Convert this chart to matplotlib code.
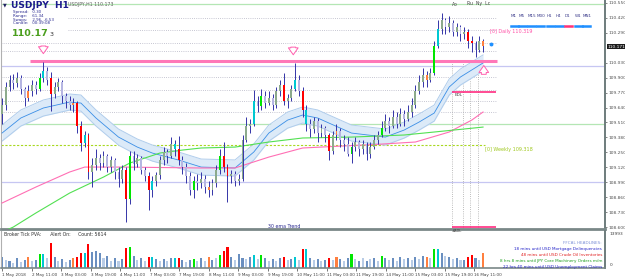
import numpy as np
import matplotlib
matplotlib.use("Agg")
import matplotlib.pyplot as plt

# ---------------- data ----------------
opens = [109.58, 109.66, 109.82, 109.88, 109.85, 109.90, 109.80, 109.72, 109.78, 109.84,
         109.80, 109.90, 109.96, 109.90, 109.76, 109.82, 109.86, 109.74, 109.70, 109.66,
         109.68, 109.48, 109.33, 109.40, 109.08, 109.14, 109.20, 109.16, 109.22, 109.12,
         109.18, 109.08, 109.02, 109.10, 108.84, 109.22, 109.15, 109.20, 109.10, 109.04,
         108.92, 109.00, 109.05, 109.18, 109.25, 109.22, 109.32, 109.28, 109.18, 109.12,
         109.04, 108.92, 109.00, 108.98, 109.02, 108.95, 108.92, 108.98, 109.10, 109.22,
         109.12, 109.04, 109.06, 109.00, 109.02, 109.36, 109.48, 109.50, 109.70, 109.65,
         109.74, 109.68, 109.72, 109.66, 109.78, 109.84, 109.70, 109.72, 109.80, 109.88,
         109.78, 109.62, 109.50, 109.45, 109.52, 109.42, 109.46, 109.40, 109.26, 109.40,
         109.44, 109.36, 109.32, 109.24, 109.30, 109.34, 109.28, 109.32, 109.24, 109.30,
         109.36, 109.40, 109.46, 109.52, 109.48, 109.56, 109.50, 109.58, 109.54, 109.60,
         109.66, 109.78, 109.86, 109.92, 109.88, 109.94, 110.18, 110.32, 110.40, 110.34,
         110.38, 110.30, 110.34, 110.28, 110.30, 110.22, 110.20, 110.14, 110.22]
highs = [109.72, 109.86, 109.92, 109.93, 109.95, 109.92, 109.82, 109.84, 109.88, 109.87,
         109.94, 110.04, 109.99, 109.95, 109.86, 109.90, 109.88, 109.77, 109.74, 109.72,
         109.70, 109.52, 109.44, 109.42, 109.20, 109.28, 109.24, 109.26, 109.24, 109.22,
         109.20, 109.12, 109.14, 109.12, 109.26, 109.26, 109.24, 109.22, 109.12, 109.08,
         109.04, 109.08, 109.22, 109.30, 109.28, 109.38, 109.36, 109.39, 109.22, 109.16,
         109.08, 109.04, 109.06, 109.08, 109.05, 109.00, 109.02, 109.14, 109.28, 109.34,
         109.15, 109.10, 109.09, 109.06, 109.40, 109.56, 109.54, 109.79, 109.74, 109.80,
         109.78, 109.78, 109.76, 109.82, 109.88, 109.94, 109.76, 109.84, 110.03, 109.92,
         109.82, 109.66, 109.54, 109.56, 109.55, 109.50, 109.48, 109.42, 109.44, 109.50,
         109.46, 109.40, 109.38, 109.34, 109.38, 109.36, 109.36, 109.34, 109.34, 109.40,
         109.44, 109.52, 109.58, 109.56, 109.62, 109.60, 109.64, 109.62, 109.66, 109.72,
         109.84, 109.92, 109.98, 109.96, 109.98, 110.22, 110.40, 110.46, 110.42, 110.44,
         110.40, 110.38, 110.36, 110.34, 110.32, 110.26, 110.22, 110.26, 110.24]
lows = [109.50, 109.62, 109.78, 109.80, 109.82, 109.76, 109.65, 109.70, 109.74, 109.76,
        109.78, 109.86, 109.84, 109.61, 109.72, 109.78, 109.68, 109.64, 109.62, 109.60,
        109.42, 109.26, 109.30, 109.02, 108.95, 109.10, 109.10, 109.12, 109.08, 109.08,
        109.02, 108.95, 108.98, 108.64, 108.80, 109.10, 109.12, 109.06, 109.00, 108.75,
        108.86, 108.96, 109.02, 109.14, 109.16, 109.20, 109.22, 109.14, 109.06, 108.98,
        108.88, 108.85, 108.92, 108.94, 108.90, 108.86, 108.88, 108.95, 109.06, 109.08,
        108.82, 108.98, 108.96, 108.97, 109.00, 109.34, 109.42, 109.48, 109.60, 109.62,
        109.64, 109.66, 109.62, 109.64, 109.74, 109.66, 109.64, 109.70, 109.78, 109.74,
        109.56, 109.44, 109.38, 109.42, 109.34, 109.38, 109.34, 109.18, 109.24, 109.36,
        109.30, 109.26, 109.22, 109.16, 109.26, 109.22, 109.24, 109.18, 109.20, 109.28,
        109.32, 109.38, 109.44, 109.42, 109.46, 109.46, 109.48, 109.48, 109.52, 109.56,
        109.64, 109.76, 109.82, 109.82, 109.86, 109.92, 110.16, 110.28, 110.28, 110.30,
        110.26, 110.26, 110.22, 110.24, 110.16, 110.12, 110.08, 110.12, 110.12]
closes = [109.66, 109.82, 109.88, 109.85, 109.90, 109.80, 109.72, 109.78, 109.84, 109.80,
          109.90, 109.96, 109.88, 109.76, 109.82, 109.86, 109.74, 109.70, 109.66, 109.68,
          109.48, 109.33, 109.40, 109.08, 109.14, 109.20, 109.16, 109.22, 109.12, 109.18,
          109.08, 109.02, 109.10, 108.84, 109.22, 109.15, 109.20, 109.10, 109.04, 108.92,
          109.00, 109.05, 109.18, 109.25, 109.22, 109.32, 109.28, 109.18, 109.12, 109.04,
          108.92, 109.00, 108.98, 109.02, 108.95, 108.92, 108.98, 109.10, 109.22, 109.12,
          109.04, 109.06, 109.00, 109.02, 109.36, 109.48, 109.50, 109.70, 109.65, 109.74,
          109.68, 109.72, 109.66, 109.78, 109.84, 109.70, 109.72, 109.80, 109.88, 109.78,
          109.62, 109.50, 109.45, 109.52, 109.42, 109.46, 109.40, 109.26, 109.40, 109.44,
          109.36, 109.32, 109.24, 109.30, 109.34, 109.28, 109.32, 109.24, 109.30, 109.36,
          109.40, 109.46, 109.52, 109.48, 109.56, 109.50, 109.58, 109.54, 109.60, 109.66,
          109.78, 109.86, 109.92, 109.88, 109.94, 110.18, 110.32, 110.40, 110.34, 110.38,
          110.30, 110.34, 110.28, 110.30, 110.22, 110.20, 110.14, 110.22, 110.173]
pva_codes = ("blblblbolb" "gclrblblbo" "rrcrbbblbl" "blbrgblblr" "cblblbcrbl"
             "bglbloblgr" "rblbblbclg" "blblbrlbcl" "rcblblbrlo" "blbglblblb"
             "lgblblblbl" "blbolgcblb" "lblbrrblo")
volumes = [4000, 3200, 2800, 1900, 3600, 2400, 3000, 4200, 2600, 3100,
           5300, 5400, 3600, 9400, 4200, 2500, 3300, 2200, 2900, 3800,
           4200, 5600, 5500, 9000, 6200, 6500, 5600, 3600, 4400, 2800,
           3800, 2600, 3500, 7600, 7900, 4400, 3200, 3900, 2600, 4200,
           4200, 3400, 2500, 3300, 2800, 3600, 3800, 3900, 3100, 2400,
           2900, 3400, 2600, 3800, 2500, 4100, 3100, 3900, 4900, 6400,
           7900, 4300, 3000, 5300, 3800, 3400, 4200, 4900, 3300, 4900,
           3600, 2700, 3400, 2800, 3900, 4100, 2900, 3500, 4200, 3200,
           7200, 7200, 3800, 2900, 3400, 2600, 3200, 3800, 3000, 4100,
           3500, 2600, 3900, 5300, 3400, 2600, 3700, 2800, 3400, 3900,
           2800, 4500, 3800, 3200, 3900, 2800, 4100, 3300, 3800, 3000,
           4200, 3300, 4400, 4100, 3600, 7200, 7200, 5600, 4400, 4000,
           3300, 3700, 2900, 3100, 4200, 4900, 3600, 3000, 5600]

ema_idx = [0, 5, 11, 18, 21, 25, 31, 36, 40, 47, 53, 62, 67, 71, 76, 80, 84, 87, 93,
           102, 107, 111, 115, 117, 119, 122, 125, 128]
ema_val = [109.418, 109.549, 109.636, 109.688, 109.679, 109.549, 109.383, 109.296, 109.244,
           109.183, 109.122, 109.114, 109.253, 109.418, 109.531, 109.575, 109.549, 109.505,
           109.418, 109.383, 109.444, 109.514, 109.592, 109.706, 109.819, 109.906, 109.967, 110.028]
pink_ma_idx = [0, 9, 18, 22, 32, 53, 62, 71, 80, 101, 110, 119, 125, 128]
pink_ma_val = [108.809, 108.948, 109.079, 109.122, 109.122, 109.114, 109.114, 109.209,
               109.288, 109.322, 109.340, 109.427, 109.531, 109.601]
green_ma_idx = [0, 3, 9, 18, 27, 34, 42, 48, 53, 62, 71, 80, 93, 107, 115, 128]
green_ma_val = [108.556, 108.600, 108.722, 108.896, 109.035, 109.157, 109.244, 109.270,
                109.288, 109.296, 109.340, 109.375, 109.383, 109.401, 109.427, 109.470]

x_labels = ["1 May 2018", "2 May 11:00", "3 May 03:00", "3 May 19:00", "4 May 11:00",
            "7 May 03:00", "7 May 19:00", "8 May 11:00", "9 May 03:00", "9 May 19:00",
            "10 May 11:00", "11 May 03:00", "11 May 19:00", "14 May 11:00", "15 May 03:00",
            "15 May 19:00", "16 May 11:00"]
price_ticks = [110.550, 110.420, 110.290, 110.030, 109.900, 109.770, 109.640, 109.510,
               109.380, 109.250, 109.120, 108.990, 108.860, 108.730, 108.600]
current_price = 110.171
daily_level = 110.319
weekly_level = 109.318
resistance_level = 110.045
edl_level = 109.775
adl_level = 108.600
grey_levels = [110.202, 110.132, 109.906, 109.793, 109.697, 109.601]
grey_levels_top = [110.419, 110.315]
lavender_levels = [110.001, 108.992]
green_levels = [110.541, 109.500]
headlines = [("FFCAL HEADLINES:", "#7b8fd6"),
             ("18 mins until USD Mortgage Delinquencies", "#2323c8"),
             ("48 mins until USD Crude Oil Inventories", "#e01e1e"),
             ("8 hrs 8 mins until JPY Core Machinery Orders m/m", "#1e9e1e"),
             ("22 hrs 40 mins until USD Unemployment Claims", "#2323c8")]
tf_labels = ["M1", "M5", "M15", "M30", "H1", "H4", "D1", "W1", "MN1"]

# ---------------- figure ----------------
W, H = 625, 280
fig = plt.figure(figsize=(W / 100, H / 100), dpi=100)
fig.patch.set_facecolor("white")

def fx(px):
    return px / W

def fy(py):
    return 1 - py / H

ax = fig.add_axes([fx(1), fy(229), 604 / W, 229 / H])
axv = fig.add_axes([fx(1), fy(268), 604 / W, 37 / H], sharex=ax)

n = len(closes)
x = np.arange(n)
px_per_bar = 3.758
xlim = (-0.27, -0.27 + 604 / px_per_bar)
ax.set_xlim(*xlim)
ax.set_ylim(108.583, 110.576)

def px2i(px):
    return (px - 2) / px_per_bar

code_col = {"r": "#ff0000", "g": "#00e600", "c": "#00c8d2", "o": "#ff7f3f"}

# horizontal levels
ax.hlines(green_levels, *xlim, colors="#b4e6b4", lw=0.9, zorder=1)
ax.hlines(lavender_levels, *xlim, colors="#c6c6f2", lw=0.9, zorder=1)
ax.hlines(grey_levels, xlim[0], px2i(497), colors="#b4b4c4", lw=0.6,
          linestyles=(0, (1, 1.6)), zorder=1)
ax.hlines(grey_levels_top, px2i(68), px2i(497), colors="#b4b4c4", lw=0.6,
          linestyles=(0, (1, 1.6)), zorder=1)
ax.hlines([weekly_level], xlim[0], px2i(485), colors="#a8d820", lw=0.8,
          linestyles=(0, (2, 1.5)), zorder=1)
ax.vlines([px2i(452), px2i(463), px2i(470), px2i(478)], 108.583, 110.036,
          colors="#a8a8a8", lw=0.6, linestyles=(0, (1, 1.6)), zorder=1)

# moving averages
ema_val_a = np.array(ema_val)
ax.fill_between(ema_idx, ema_val_a - 0.07, ema_val_a + 0.07, color="#dceaf8", lw=0, zorder=2)
ax.plot(ema_idx, ema_val_a - 0.07, color="#b0cdec", lw=0.7, zorder=2)
ax.plot(ema_idx, ema_val_a + 0.07, color="#b0cdec", lw=0.7, zorder=2)
ax.plot(ema_idx, ema_val_a, color="#3a8ee6", lw=0.6, zorder=3)
ax.plot(pink_ma_idx, pink_ma_val, color="#ff6fb4", lw=0.8, zorder=3)
ax.plot(green_ma_idx, green_ma_val, color="#52e052", lw=0.8, zorder=3)

# key levels
ax.hlines([resistance_level], px2i(30), px2i(497), colors="#ff78b8", lw=2.2, zorder=4)
ax.hlines([edl_level, adl_level], px2i(452), px2i(496), colors="#ff1a75", lw=1.1, zorder=4)

# candles
o = np.array(opens); c = np.array(closes); hi = np.array(highs); lo = np.array(lows)
body_cols = []
for i in range(n):
    k = pva_codes[i]
    if k in code_col:
        body_cols.append(code_col[k])
    else:
        body_cols.append("#8caa8c" if c[i] >= o[i] else "#b6b6e2")
ax.vlines(x, lo, hi, colors="#3434a8", lw=0.7, zorder=5)
bottoms = np.minimum(o, c)
heights = np.maximum(np.abs(c - o), 0.006)
ax.bar(x, heights, bottom=bottoms, width=0.5, color=body_cols, lw=0, zorder=6)

# arrows (hollow block arrows)
arr = dict(arrowstyle="simple,head_width=0.7,head_length=0.5,tail_width=0.35",
           fc="white", ec="#ff5fae", lw=0.7)
ax.annotate("", xy=(11, 110.085), xytext=(11, 110.200), arrowprops=arr, zorder=7)
ax.annotate("", xy=(77.5, 110.075), xytext=(77.5, 110.190), arrowprops=arr, zorder=7)
ax.annotate("", xy=(128.2, 110.030), xytext=(128.2, 109.905), arrowprops=arr, zorder=7)
ax.plot([130], [110.193], marker="o", ms=1.8, color="#1e90ff", zorder=7)

# axes styling
for a in (ax, axv):
    a.set_facecolor("white")
    a.spines["top"].set_visible(False)
    a.spines["left"].set_color("#b0b0b0")
    a.spines["left"].set_linewidth(0.8)
    a.spines["right"].set_color("#6e7c7c")
    a.spines["right"].set_linewidth(1.4)
    a.spines["bottom"].set_color("#7a8888")
ax.spines["bottom"].set_linewidth(2.0)
axv.spines["bottom"].set_linewidth(1.2)

ax.yaxis.tick_right()
ax.set_yticks(price_ticks)
ax.set_yticklabels([f"{v:.3f}" for v in price_ticks])
ax.tick_params(axis="y", labelsize=3.2, colors="#505050", length=1.5, width=0.5, pad=0.8)
ax.tick_params(axis="x", bottom=False, labelbottom=False)

ax.text(1.004, current_price, f"{current_price:.3f}", transform=ax.get_yaxis_transform(),
        fontsize=3.2, color="white", va="center", ha="left",
        bbox=dict(boxstyle="square,pad=0.2", fc="#1c1c1c", ec="none"), clip_on=False)

# volume pane
vol_cols = [code_col.get(k, "#6a8fc0" if k == "b" else "#b8cce6") for k in pva_codes]
axv.bar(x, volumes, width=0.55, color=vol_cols, lw=0)
axv.set_ylim(0, 13993)
axv.set_yticks([])
tick_pos = np.arange(len(x_labels)) * 7.85
axv.set_xticks(tick_pos)
axv.set_xticklabels(x_labels)
axv.tick_params(axis="x", labelsize=3.0, colors="#404040", length=2, width=0.5, pad=1.5)
for lab in axv.get_xticklabels():
    lab.set_ha("left")
axv.text(1.008, 0.97, "13993", transform=axv.transAxes, fontsize=3.2, color="#404040",
         va="top", ha="left")
axv.text(1.008, 0.02, "0", transform=axv.transAxes, fontsize=3.2, color="#404040",
         va="bottom", ha="left")

# ---------------- texts ----------------
fig.text(fx(3), fy(5), "\u25bc", fontsize=3.5, color="#202060", va="center")
fig.text(fx(11), fy(5), "USDJPY  H1", fontsize=6.5, fontweight="bold", color="#1a1a8c", va="center")
fig.text(fx(68), fy(4.5), "USDJPY,H1 110.173", fontsize=3.3, color="#606060", va="center")
info = ["Spread:   0.30", "Range:    61.34", "Swaps:    2.96, -6.53", "Candle:   00:39:08"]
for k, t in enumerate(info):
    fig.text(fx(13), fy(12.5 + 3.6 * k), t, fontsize=2.9, color="#2a2a90", va="center")
fig.text(fx(12), fy(33), "110.17", fontsize=6.8, fontweight="bold", color="#4a9e1c", va="center")
fig.text(fx(50), fy(34), "3", fontsize=4.5, color="#303030", va="center")

fig.text(fx(452), fy(4), "Ao", fontsize=3.3, color="#404040", va="center")
fig.text(fx(467), fy(4), "Ru  Ny  Lc", fontsize=3.3, color="#404040", va="center")

tf_x = [511, 519, 528, 537, 547, 556, 565, 575, 583]
for t, xx in zip(tf_labels, tf_x):
    fig.text(fx(xx), fy(16), t, fontsize=3.0, color="#3a3a8a", va="center")
    fig.add_artist(plt.Line2D([fx(xx), fx(xx + 6.5)], [fy(26), fy(26)],
                              color="#ff3377" if t == "D1" else "#1e8fff", lw=1.8,
                              transform=fig.transFigure))

fig.text(fx(490), fy(32), f"[0] Daily {daily_level:.3f}", fontsize=3.5, color="#ff4fa6", va="center")
fig.text(fx(485), fy(150), f"[0] Weekly {weekly_level:.3f}", fontsize=3.5, color="#a0c820", va="center")
fig.text(fx(455), fy(95), "EDL", fontsize=3.0, color="#404040", va="center")
fig.text(fx(452), fy(230.5), "#ADL", fontsize=2.6, color="#404040", va="center")
fig.text(fx(268), fy(226), "30 ema Trend", fontsize=3.4, color="#2a2a90", va="center")

fig.text(fx(4), fy(235), "Broker Tick PVA:      Alert On:     Count: 5614", fontsize=3.3,
         color="#303030", va="center")
for k, (t, col) in enumerate(headlines):
    fig.text(fx(602), fy(243 + 6.1 * k), t, fontsize=3.0, color=col, va="center", ha="right")

fig.savefig("out.png", dpi=100, facecolor="white")
